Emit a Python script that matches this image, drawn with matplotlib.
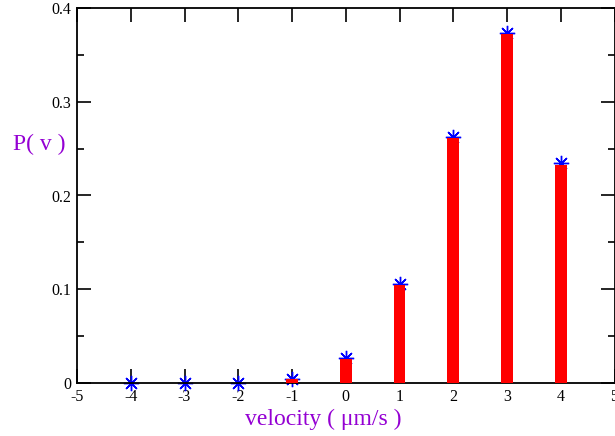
import matplotlib
matplotlib.use('Agg')
import matplotlib.pyplot as plt
import numpy as np
from matplotlib.ticker import MultipleLocator

# velocity bins (um/s)
velocity = [-4, -3, -2, -1, 0, 1, 2, 3, 4]
# histogram (red bars)
p_bars = [0.0, 0.0, 0.0, 0.0043, 0.0253, 0.1045, 0.261, 0.3723, 0.2329]
# model values (blue asterisks)
p_stars = [0.0002, 0.0002, 0.0002, 0.0045, 0.0262, 0.1052, 0.2622, 0.3735, 0.2342]

x_ticks = [-5, -4, -3, -2, -1, 0, 1, 2, 3, 4, 5]
y_ticks = [0, 0.1, 0.2, 0.3, 0.4]
y_labels = ['0', '0.1', '0.2', '0.3', '0.4']

plt.rcParams['font.family'] = ['Liberation Serif', 'DejaVu Serif']

fig = plt.figure(figsize=(6.15, 4.36), dpi=100)
ax = fig.add_axes([77 / 615, 53 / 436, 537.5 / 615, 375 / 436])

ax.plot(velocity, p_stars, linestyle='none', marker=(8, 2, 0), markersize=11,
        markeredgewidth=1.0, color='#0000ff', zorder=2, clip_on=False)
ax.bar(velocity, p_bars, width=0.22, color='#ff0000', zorder=3)

ax.set_xlim(-5, 5)
ax.set_ylim(0, 0.4)
ax.set_xticks(x_ticks)
ax.set_xticklabels([str(t) for t in x_ticks])
ax.set_yticks(y_ticks)
ax.set_yticklabels(y_labels)
ax.yaxis.set_minor_locator(MultipleLocator(0.05))

ax.tick_params(which='major', direction='in', length=10, width=1.2,
               top=True, right=True, labelsize=11.5, pad=4)
ax.tick_params(which='minor', direction='in', length=5, width=1.2,
               left=True, right=True)
for s in ax.spines.values():
    s.set_linewidth(1.3)

# axis titles placed like the original (horizontal y title)
fig.text(323 / 615, 1 - 419 / 436, 'velocity ( \u03bcm/s )', color='#9400d3',
         fontsize=17, ha='center', va='center')
fig.text(39 / 615, 1 - 144 / 436, 'P( v )', color='#9400d3',
         fontsize=17, ha='center', va='center')

fig.savefig('out.png', dpi=100)
